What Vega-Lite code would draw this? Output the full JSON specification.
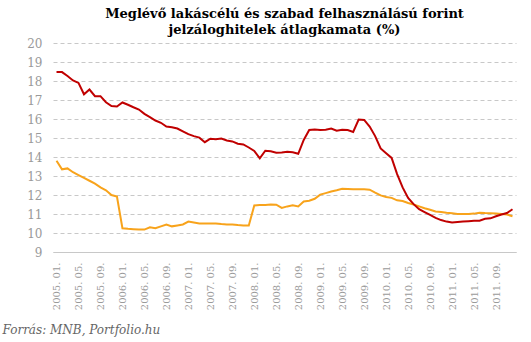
{
"$schema": "https://vega.github.io/schema/vega-lite/v6.json",
"width": 463, "height": 209,
"autosize": {"type": "none"},
"padding": {"left": 53, "top": 43, "right": 15, "bottom": 90},
"background": "white",
"title": {"text": ["Meglévő lakáscélú és szabad felhasználású forint", "jelzáloghitelek átlagkamata (%)"], "font": "DejaVu Serif", "fontSize": 13, "fontWeight": "bold", "color": "#000000", "anchor": "middle", "offset": 0, "lineHeight": 16},
"data": {"values": [
{"d":"2005. 01.","szabad":18.47,"lakas":13.8},
{"d":"2005. 02.","szabad":18.47,"lakas":13.35},
{"d":"2005. 03.","szabad":18.26,"lakas":13.4},
{"d":"2005. 04.","szabad":18.03,"lakas":13.2},
{"d":"2005. 05.","szabad":17.9,"lakas":13.05},
{"d":"2005. 06.","szabad":17.3,"lakas":12.9},
{"d":"2005. 07.","szabad":17.55,"lakas":12.75},
{"d":"2005. 08.","szabad":17.2,"lakas":12.6},
{"d":"2005. 09.","szabad":17.2,"lakas":12.4},
{"d":"2005. 10.","szabad":16.88,"lakas":12.25},
{"d":"2005. 11.","szabad":16.68,"lakas":12.0},
{"d":"2005. 12.","szabad":16.66,"lakas":11.92},
{"d":"2006. 01.","szabad":16.87,"lakas":10.25},
{"d":"2006. 02.","szabad":16.75,"lakas":10.22},
{"d":"2006. 03.","szabad":16.62,"lakas":10.2},
{"d":"2006. 04.","szabad":16.5,"lakas":10.18},
{"d":"2006. 05.","szabad":16.27,"lakas":10.18},
{"d":"2006. 06.","szabad":16.1,"lakas":10.3},
{"d":"2006. 07.","szabad":15.92,"lakas":10.25},
{"d":"2006. 08.","szabad":15.8,"lakas":10.35},
{"d":"2006. 09.","szabad":15.6,"lakas":10.45},
{"d":"2006. 10.","szabad":15.56,"lakas":10.35},
{"d":"2006. 11.","szabad":15.5,"lakas":10.4},
{"d":"2006. 12.","szabad":15.35,"lakas":10.45},
{"d":"2007. 01.","szabad":15.2,"lakas":10.6},
{"d":"2007. 02.","szabad":15.1,"lakas":10.55},
{"d":"2007. 03.","szabad":15.02,"lakas":10.5},
{"d":"2007. 04.","szabad":14.78,"lakas":10.5},
{"d":"2007. 05.","szabad":14.96,"lakas":10.5},
{"d":"2007. 06.","szabad":14.94,"lakas":10.5},
{"d":"2007. 07.","szabad":14.97,"lakas":10.47},
{"d":"2007. 08.","szabad":14.87,"lakas":10.45},
{"d":"2007. 09.","szabad":14.82,"lakas":10.45},
{"d":"2007. 10.","szabad":14.7,"lakas":10.42},
{"d":"2007. 11.","szabad":14.66,"lakas":10.4},
{"d":"2007. 12.","szabad":14.5,"lakas":10.4},
{"d":"2008. 01.","szabad":14.32,"lakas":11.45},
{"d":"2008. 02.","szabad":13.93,"lakas":11.47},
{"d":"2008. 03.","szabad":14.33,"lakas":11.48},
{"d":"2008. 04.","szabad":14.3,"lakas":11.5},
{"d":"2008. 05.","szabad":14.22,"lakas":11.49},
{"d":"2008. 06.","szabad":14.24,"lakas":11.32},
{"d":"2008. 07.","szabad":14.28,"lakas":11.4},
{"d":"2008. 08.","szabad":14.25,"lakas":11.46},
{"d":"2008. 09.","szabad":14.17,"lakas":11.4},
{"d":"2008. 10.","szabad":14.9,"lakas":11.66},
{"d":"2008. 11.","szabad":15.42,"lakas":11.7},
{"d":"2008. 12.","szabad":15.45,"lakas":11.8},
{"d":"2009. 01.","szabad":15.42,"lakas":12.02},
{"d":"2009. 02.","szabad":15.44,"lakas":12.1},
{"d":"2009. 03.","szabad":15.5,"lakas":12.18},
{"d":"2009. 04.","szabad":15.38,"lakas":12.25},
{"d":"2009. 05.","szabad":15.43,"lakas":12.33},
{"d":"2009. 06.","szabad":15.42,"lakas":12.32},
{"d":"2009. 07.","szabad":15.32,"lakas":12.3},
{"d":"2009. 08.","szabad":15.97,"lakas":12.3},
{"d":"2009. 09.","szabad":15.95,"lakas":12.3},
{"d":"2009. 10.","szabad":15.6,"lakas":12.28},
{"d":"2009. 11.","szabad":15.1,"lakas":12.12},
{"d":"2009. 12.","szabad":14.45,"lakas":11.98},
{"d":"2010. 01.","szabad":14.2,"lakas":11.9},
{"d":"2010. 02.","szabad":13.95,"lakas":11.85},
{"d":"2010. 03.","szabad":13.1,"lakas":11.72},
{"d":"2010. 04.","szabad":12.4,"lakas":11.68},
{"d":"2010. 05.","szabad":11.85,"lakas":11.58},
{"d":"2010. 06.","szabad":11.52,"lakas":11.5},
{"d":"2010. 07.","szabad":11.25,"lakas":11.4},
{"d":"2010. 08.","szabad":11.1,"lakas":11.3},
{"d":"2010. 09.","szabad":10.95,"lakas":11.22},
{"d":"2010. 10.","szabad":10.8,"lakas":11.13},
{"d":"2010. 11.","szabad":10.68,"lakas":11.1},
{"d":"2010. 12.","szabad":10.6,"lakas":11.06},
{"d":"2011. 01.","szabad":10.55,"lakas":11.04},
{"d":"2011. 02.","szabad":10.58,"lakas":11.0},
{"d":"2011. 03.","szabad":10.6,"lakas":11.0},
{"d":"2011. 04.","szabad":10.62,"lakas":11.0},
{"d":"2011. 05.","szabad":10.64,"lakas":11.02},
{"d":"2011. 06.","szabad":10.65,"lakas":11.07},
{"d":"2011. 07.","szabad":10.75,"lakas":11.05},
{"d":"2011. 08.","szabad":10.77,"lakas":11.04},
{"d":"2011. 09.","szabad":10.88,"lakas":11.03},
{"d":"2011. 10.","szabad":10.97,"lakas":11.0},
{"d":"2011. 11.","szabad":11.05,"lakas":10.97},
{"d":"2011. 12.","szabad":11.25,"lakas":10.88}
]},
"transform": [{"fold": ["lakas", "szabad"], "as": ["sorozat", "ertek"]}],
"mark": {"type": "line", "strokeWidth": 2},
"encoding": {
  "x": {"field": "d", "type": "ordinal", "sort": null, "scale": {"type": "point", "padding": 0.64},
    "axis": {"title": "Forrás: MNB, Portfolio.hu",
      "values": ["2005. 01.","2005. 05.","2005. 09.","2006. 01.","2006. 05.","2006. 09.","2007. 01.","2007. 05.","2007. 09.","2008. 01.","2008. 05.","2008. 09.","2009. 01.","2009. 05.","2009. 09.","2010. 01.","2010. 05.","2010. 09.","2011. 01.","2011. 05.","2011. 09."],
      "labelAngle": 270, "labelAlign": "right", "labelBaseline": "middle", "labelPadding": 10,
      "labelFont": "DejaVu Serif", "labelFontSize": 10, "labelColor": "#9a9a9a", "labelOverlap": false,
      "ticks": false, "grid": false, "domainColor": "#c8c8c8", "domainWidth": 1,
      "titleFont": "DejaVu Serif", "titleFontStyle": "italic", "titleFontWeight": "normal", "titleFontSize": 12, "titleColor": "#666666",
      "titleX": -51, "titleY": 81, "titleAlign": "left", "titleAnchor": "start", "titleBaseline": "alphabetic"}},
  "y": {"field": "ertek", "type": "quantitative", "scale": {"domain": [9, 20], "nice": false, "zero": false},
    "axis": {"title": null, "values": [9,10,11,12,13,14,15,16,17,18,19,20], "grid": true, "gridDash": [4, 3], "gridColor": "#c8c8c8",
      "domain": false, "ticks": false, "labelOverlap": false, "labelPadding": 11, "labelFont": "DejaVu Serif", "labelFontSize": 12, "labelColor": "#9a9a9a"}},
  "color": {"field": "sorozat", "type": "nominal", "scale": {"domain": ["lakas", "szabad"], "range": ["#F8A31B", "#C00000"]}, "legend": null}
},
"config": {"view": {"stroke": null}}
}
